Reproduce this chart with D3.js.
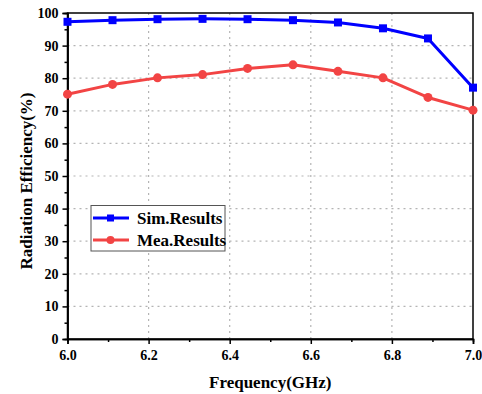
<!DOCTYPE html>
<html>
<head>
<meta charset="utf-8">
<script src="https://cdn.jsdelivr.net/npm/d3@7/dist/d3.min.js"></script>
<style>
  html, body { margin: 0; padding: 0; background: #fff; }
  svg { display: block; }
</style>
</head>
<body>
<svg id="chart" width="482" height="394"></svg>
<script>
// Frequency sample points (GHz)
const frequencies = [6.0, 6.111, 6.222, 6.333, 6.444, 6.556, 6.667, 6.778, 6.889, 7.0];
// Radiation efficiency (%)
const simResults = [97.3, 97.8, 98.1, 98.2, 98.1, 97.8, 97.1, 95.3, 92.2, 77.1];
const meaResults = [75.1, 78.1, 80.1, 81.1, 83.0, 84.1, 82.1, 80.1, 74.1, 70.2];
const xTicks = [6.0, 6.2, 6.4, 6.6, 6.8, 7.0];
const yTicks = [0, 10, 20, 30, 40, 50, 60, 70, 80, 90, 100];
const seriesNames = ["Sim.Results", "Mea.Results"];

const FONT = "'Times New Roman', 'Liberation Serif', serif";
const svg = d3.select("#chart");
const m = { left: 67.5, right: 473, top: 13, bottom: 339 };

const x = d3.scaleLinear().domain([6.0, 7.0]).range([m.left, m.right]);
const y = d3.scaleLinear().domain([0, 100]).range([m.bottom, m.top]);

// dotted grid
const grid = svg.append("g").attr("stroke", "#b4b4b4").attr("stroke-width", 1.2).attr("stroke-dasharray", "2,4");
xTicks.slice(1, -1).forEach(t => {
  grid.append("line").attr("x1", x(t)).attr("x2", x(t)).attr("y1", m.top).attr("y2", m.bottom);
});
yTicks.slice(1, -1).forEach(t => {
  grid.append("line").attr("x1", m.left).attr("x2", m.right).attr("y1", y(t)).attr("y2", y(t));
});

// frame (top & right)
svg.append("rect").attr("x", m.left).attr("y", m.top)
  .attr("width", m.right - m.left).attr("height", m.bottom - m.top)
  .attr("fill", "none").attr("stroke", "#000").attr("stroke-width", 1.5);

// axes with major and minor ticks
const xAxis = svg.append("g").attr("transform", `translate(0,${m.bottom})`)
  .call(d3.axisBottom(x).tickValues(xTicks).tickFormat(d3.format(".1f")).tickSize(5).tickPadding(6));
const xMinor = svg.append("g").attr("transform", `translate(0,${m.bottom})`)
  .call(d3.axisBottom(x).tickValues([6.1, 6.3, 6.5, 6.7, 6.9]).tickFormat("").tickSize(3));
const yAxis = svg.append("g").attr("transform", `translate(${m.left},0)`)
  .call(d3.axisLeft(y).tickValues(yTicks).tickSize(5).tickPadding(4));
const yMinor = svg.append("g").attr("transform", `translate(${m.left},0)`)
  .call(d3.axisLeft(y).tickValues(d3.range(5, 100, 10)).tickFormat("").tickSize(3));

[xAxis, xMinor, yAxis, yMinor].forEach(g => {
  g.attr("font-family", null);
  g.select(".domain").attr("stroke", "#000").attr("stroke-width", 1.5);
  g.selectAll(".tick line").attr("stroke", "#000").attr("stroke-width", 1.5);
  g.selectAll(".tick text").attr("fill", "#000")
    .style("font-family", FONT).style("font-weight", "bold").style("font-size", "14px");
});

// series
const colors = ["#0000ff", "#f24444"];
const line = d3.line().x((d, i) => x(frequencies[i])).y(d => y(d));

svg.append("path").datum(simResults).attr("d", line)
  .attr("fill", "none").attr("stroke", colors[0]).attr("stroke-width", 3).attr("stroke-linejoin", "round");
svg.append("g").selectAll("rect").data(simResults).join("rect")
  .attr("x", (d, i) => x(frequencies[i]) - 4).attr("y", d => y(d) - 4)
  .attr("width", 8).attr("height", 8).attr("fill", colors[0]);

svg.append("path").datum(meaResults).attr("d", line)
  .attr("fill", "none").attr("stroke", colors[1]).attr("stroke-width", 3).attr("stroke-linejoin", "round");
svg.append("g").selectAll("circle").data(meaResults).join("circle")
  .attr("cx", (d, i) => x(frequencies[i])).attr("cy", d => y(d))
  .attr("r", 4.5).attr("fill", colors[1]);

// legend
const lg = svg.append("g");
lg.append("rect").attr("x", 91).attr("y", 205.5).attr("width", 134).attr("height", 45.5)
  .attr("fill", "#fff").attr("stroke", "#555").attr("stroke-width", 1);
seriesNames.forEach((name, i) => {
  const cy = 218 + i * 22;
  lg.append("line").attr("x1", 93).attr("x2", 129).attr("y1", cy).attr("y2", cy)
    .attr("stroke", colors[i]).attr("stroke-width", 3);
  if (i === 0) {
    lg.append("rect").attr("x", 107).attr("y", cy - 3.5).attr("width", 7).attr("height", 7).attr("fill", colors[i]);
  } else {
    lg.append("circle").attr("cx", 110.5).attr("cy", cy).attr("r", 4).attr("fill", colors[i]);
  }
  lg.append("text").attr("x", 137).attr("y", cy + 5.5)
    .style("font-family", FONT).style("font-weight", "bold").style("font-size", "17px")
    .attr("fill", "#000").text(name);
});

// axis titles
svg.append("text").attr("x", (m.left + m.right) / 2).attr("y", 388)
  .attr("text-anchor", "middle")
  .style("font-family", FONT).style("font-weight", "bold").style("font-size", "17px")
  .attr("fill", "#000").text("Frequency(GHz)");
svg.append("text").attr("transform", `translate(32,${(m.top + m.bottom) / 2 + 5}) rotate(-90)`)
  .attr("text-anchor", "middle")
  .style("font-family", FONT).style("font-weight", "bold").style("font-size", "17px")
  .attr("fill", "#000").text("Radiation Efficiency(%)");
</script>
</body>
</html>
